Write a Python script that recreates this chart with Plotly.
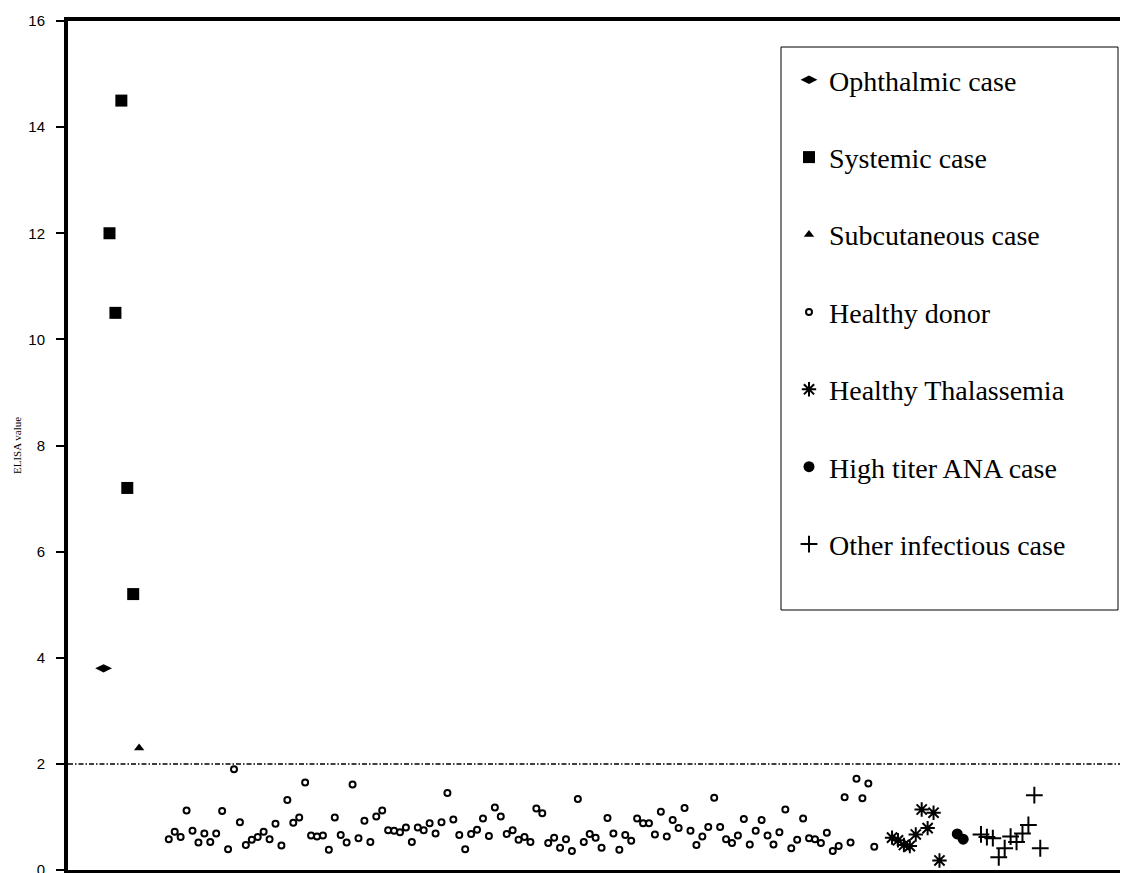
import plotly.graph_objects as go

# ---- data ----
ophthalmic_x = [6]
ophthalmic_y = [3.8]

systemic_x = [7, 8, 9, 10, 11]
systemic_y = [12.0, 10.5, 14.5, 7.2, 5.2]

subcutaneous_x = [12]
subcutaneous_y = [2.3]

donor_y = [0.58, 0.72, 0.62, 1.12, 0.74, 0.52, 0.69, 0.53, 0.69, 1.11,
           0.39, 1.90, 0.90, 0.47, 0.57, 0.62, 0.72, 0.58, 0.87, 0.46,
           1.32, 0.89, 0.99, 1.65, 0.65, 0.63, 0.65, 0.38, 0.99, 0.66,
           0.52, 1.61, 0.60, 0.93, 0.53, 1.01, 1.12, 0.75, 0.74, 0.71,
           0.80, 0.53, 0.80, 0.75, 0.88, 0.69, 0.90, 1.45, 0.95, 0.66,
           0.39, 0.68, 0.76, 0.97, 0.64, 1.18, 1.01, 0.68, 0.75, 0.57,
           0.62, 0.53, 1.16, 1.07, 0.51, 0.61, 0.42, 0.58, 0.36, 1.34,
           0.53, 0.68, 0.61, 0.42, 0.98, 0.69, 0.38, 0.66, 0.55, 0.97,
           0.88, 0.88, 0.67, 1.10, 0.63, 0.94, 0.79, 1.17, 0.74, 0.47,
           0.63, 0.81, 1.36, 0.81, 0.58, 0.51, 0.65, 0.96, 0.48, 0.74,
           0.94, 0.65, 0.48, 0.71, 1.14, 0.41, 0.57, 0.97, 0.60, 0.58,
           0.51, 0.70, 0.36, 0.45, 1.37, 0.52, 1.72, 1.35, 1.63, 0.44]
donor_x = list(range(17, 17 + len(donor_y)))

thal_y = [0.61, 0.56, 0.47, 0.45, 0.67, 1.14, 0.79, 1.08, 0.18]
thal_x = list(range(139, 139 + len(thal_y)))

ana_x = [150, 151]
ana_y = [0.68, 0.58]

infect_y = [0.67, 0.62, 0.60, 0.24, 0.41, 0.63, 0.53, 0.69, 0.85, 1.41, 0.41]
infect_x = list(range(154, 154 + len(infect_y)))

cutoff = 2.0
x_max = 178.8
y_ticks = [0, 2, 4, 6, 8, 10, 12, 14, 16]

# ---- figure ----
fig = go.Figure()

def add(name, x, y, symbol, size, lw=0, color="black", group=None):
    fig.add_trace(go.Scatter(
        x=x, y=y, mode="markers", name=name, legendgroup=group or name,
        marker=dict(symbol=symbol, size=size, color=color,
                    line=dict(width=lw, color="black")),
        hoverinfo="x+y"))

add("Ophthalmic case", ophthalmic_x, ophthalmic_y, "diamond-wide", 12)
add("Systemic case", systemic_x, systemic_y, "square", 12)
add("Subcutaneous case", subcutaneous_x, subcutaneous_y, "triangle-up", 9)
add("Healthy donor", donor_x, donor_y, "circle-open", 6, lw=2)
add("Healthy Thalassemia", thal_x, thal_y, "asterisk-open", 12, lw=2)
add("High titer ANA case", ana_x, ana_y, "circle", 11)
add("Other infectious case", infect_x, infect_y, "cross-thin-open", 12, lw=2)

fig.add_trace(go.Scatter(
    x=[0, x_max], y=[cutoff, cutoff], mode="lines", showlegend=False,
    line=dict(color="black", width=1.5, dash="5px,2px,1.5px,2px"),
    hoverinfo="skip"))

# The page body adds an 8px offset, so figure coords = screen coords - 8
OFF = 8
W, H = 1128 - OFF, 873 - OFF
L, T, B = 68 - OFF, 21 - OFF, 3
PW, PH = W - L, H - T - B

def px(xs):  # screen x -> paper
    return (xs - OFF - L) / PW

def py(ys):  # screen y -> paper
    return 1 - (ys - OFF - T) / PH

fig.update_layout(
    width=W, height=H,
    margin=dict(l=L, r=0, t=T, b=B),
    paper_bgcolor="white", plot_bgcolor="white",
    showlegend=True,
    legend=dict(
        x=px(789), xanchor="left",
        y=py(55), yanchor="top",
        bgcolor="rgba(0,0,0,0)", borderwidth=0,
        font=dict(family="Liberation Serif", size=28, color="black"),
        tracegroupgap=38, itemsizing="trace",
    ),
    shapes=[dict(type="rect", xref="paper", yref="paper",
                 x0=px(781), x1=px(1118),
                 y0=py(610), y1=py(47),
                 line=dict(color="black", width=1), fillcolor="rgba(0,0,0,0)",
                 layer="above")],
    xaxis=dict(range=[0, x_max], showgrid=False, zeroline=False, automargin=False,
               showticklabels=False, ticks="", showline=True,
               linecolor="black", linewidth=4, mirror=True),
    yaxis=dict(range=[0, 16], tickvals=y_ticks, showgrid=False, zeroline=False,
               automargin=False, ticklabeloverflow="allow",
               ticks="outside", ticklen=8, tickwidth=2, tickcolor="black",
               ticklabelstandoff=8,
               showline=True, linecolor="black", linewidth=4, mirror=False,
               tickfont=dict(family="Liberation Sans", size=15, color="black"),
               title=dict(text="ELISA value", standoff=5,
                          font=dict(family="Liberation Serif", size=11, color="black"))),
)

fig.write_html("out.html")
